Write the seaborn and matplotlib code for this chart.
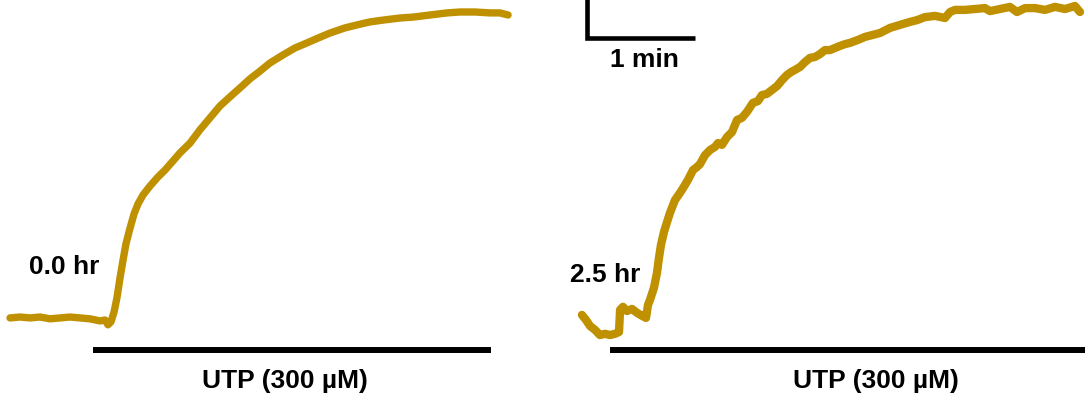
import matplotlib
matplotlib.use("Agg")
import matplotlib.pyplot as plt
import pandas as pd
import seaborn as sns

# Calcium responses to UTP, time in s relative to UTP application,
# signal as normalised fluorescence ratio
t_0hr = [-46.1, -40.6, -35.0, -29.4, -23.9, -18.3, -12.8, -7.2, -1.7, 3.9,
         6.7, 8.3, 10.0, 11.7, 13.3, 15.0, 16.7, 18.3, 20.6, 22.8,
         25.0, 27.8, 31.7, 36.1, 40.0, 44.4, 48.3, 53.9, 59.4, 65.0,
         70.6, 76.1, 81.7, 87.2, 92.8, 98.3, 105.6, 112.2, 118.9, 125.0,
         131.7, 140.0, 146.7, 153.9, 161.1, 170.6, 177.8, 187.2, 196.7, 203.9,
         212.2, 220.6, 226.1, 230.6]
f_0hr = [0.040, 0.043, 0.040, 0.043, 0.037, 0.040, 0.043, 0.040, 0.037, 0.030,
         0.033, 0.017, 0.027, 0.060, 0.107, 0.173, 0.233, 0.287, 0.340, 0.387,
         0.420, 0.450, 0.480, 0.510, 0.533, 0.563, 0.590, 0.623, 0.667, 0.707,
         0.747, 0.777, 0.807, 0.837, 0.863, 0.890, 0.917, 0.940, 0.957, 0.973,
         0.990, 1.007, 1.017, 1.027, 1.033, 1.040, 1.043, 1.050, 1.057, 1.060,
         1.060, 1.057, 1.057, 1.050]

t_25hr = [-15.6, -13.3, -11.1, -8.3, -5.6, -2.8, 0.0, 2.8, 5.0, 5.6,
          7.2, 9.4, 12.2, 15.0, 17.8, 20.0, 21.1, 22.2, 24.4, 26.1,
          27.2, 28.3, 30.0, 31.7, 33.3, 36.1, 38.9, 40.6, 43.3, 46.1,
          48.3, 50.0, 52.8, 55.6, 58.3, 60.0, 62.2, 65.0, 67.8, 70.6,
          73.3, 76.1, 79.4, 82.2, 84.4, 87.2, 90.0, 92.8, 95.6, 98.3,
          100.6, 102.8, 105.6, 108.3, 111.1, 113.9, 116.7, 119.4, 122.2, 125.0,
          127.8, 130.6, 133.3, 137.8, 141.7, 145.6, 150.0, 155.6, 161.1, 166.7,
          170.6, 175.0, 180.6, 186.1, 188.9, 191.7, 197.2, 202.8, 208.3, 211.1,
          216.7, 222.2, 226.1, 230.6, 236.1, 241.7, 247.2, 252.8, 258.3, 261.1]
f_25hr = [0.050, 0.033, 0.013, 0.000, -0.017, -0.013, -0.017, -0.013, -0.007, 0.067,
          0.077, 0.063, 0.070, 0.057, 0.047, 0.040, 0.083, 0.100, 0.140, 0.190,
          0.240, 0.283, 0.327, 0.360, 0.390, 0.433, 0.457, 0.473, 0.500, 0.533,
          0.543, 0.553, 0.583, 0.600, 0.610, 0.623, 0.617, 0.643, 0.660, 0.700,
          0.707, 0.727, 0.757, 0.763, 0.783, 0.787, 0.800, 0.813, 0.833, 0.850,
          0.860, 0.867, 0.877, 0.893, 0.907, 0.910, 0.920, 0.933, 0.933, 0.940,
          0.947, 0.953, 0.957, 0.967, 0.977, 0.983, 0.990, 1.007, 1.017, 1.027,
          1.033, 1.043, 1.047, 1.040, 1.060, 1.067, 1.067, 1.070, 1.073, 1.063,
          1.070, 1.077, 1.060, 1.073, 1.073, 1.067, 1.077, 1.070, 1.080, 1.060]

panel_labels = ["0.0 hr", "2.5 hr"]
utp_label = "UTP (300 µM)"
utp_end = [221.1, 263.9]          # end of UTP application (s)
scale_label = "1 min"
scale_len = 60.0                  # s

GOLD = "#BF9000"
FS = 19

sns.set_theme(style="white")
plt.rcParams["font.family"] = ["Liberation Sans", "DejaVu Sans"]
plt.rcParams["font.weight"] = "bold"
plt.rcParams["text.color"] = "black"

fig = plt.figure(figsize=(10.88, 4.01), dpi=100)
ax_l = fig.add_axes([0.0, 0.0, 0.5, 1.0])
ax_r = fig.add_axes([0.5, 0.0, 0.5, 1.0])

traces = [pd.DataFrame({"t": t_0hr, "f": f_0hr}),
          pd.DataFrame({"t": t_25hr, "f": f_25hr})]
widths = [5.3, 6.0]
xlims = [(-51.67, 250.56), (-36.67, 265.56)]
ylim = (-0.237, 1.10)

for ax, df, lw, xl, end in zip([ax_l, ax_r], traces, widths, xlims, utp_end):
    sns.lineplot(data=df, x="t", y="f", ax=ax, color=GOLD, linewidth=lw,
                 solid_capstyle="round", solid_joinstyle="round")
    # UTP application bar
    ax.plot([0, end], [-0.067, -0.067], color="black", linewidth=4.3,
            solid_capstyle="butt")
    ax.set_xlim(*xl)
    ax.set_ylim(*ylim)
    ax.axis("off")

ax_l.text(3.5, 0.21, panel_labels[0], ha="right", va="center", fontsize=FS,
          fontweight="bold", color="black")
ax_r.text(17.0, 0.183, panel_labels[1], ha="right", va="center", fontsize=FS,
          fontweight="bold", color="black")
ax_l.text(106.7, -0.17, utp_label, ha="center", va="center", fontsize=FS,
          fontweight="bold", color="black")
ax_r.text(147.8, -0.17, utp_label, ha="center", va="center", fontsize=FS,
          fontweight="bold", color="black")

# Scale bar
x0 = -12.8
ax_r.plot([x0, x0, x0 + scale_len], [1.12, 0.973, 0.973], color="black",
          linewidth=3.3, solid_joinstyle="miter", solid_capstyle="butt")
ax_r.text(x0 + 31.7, 0.90, scale_label, ha="center", va="center", fontsize=FS,
          fontweight="bold", color="black")

fig.savefig("out.png", dpi=100)
